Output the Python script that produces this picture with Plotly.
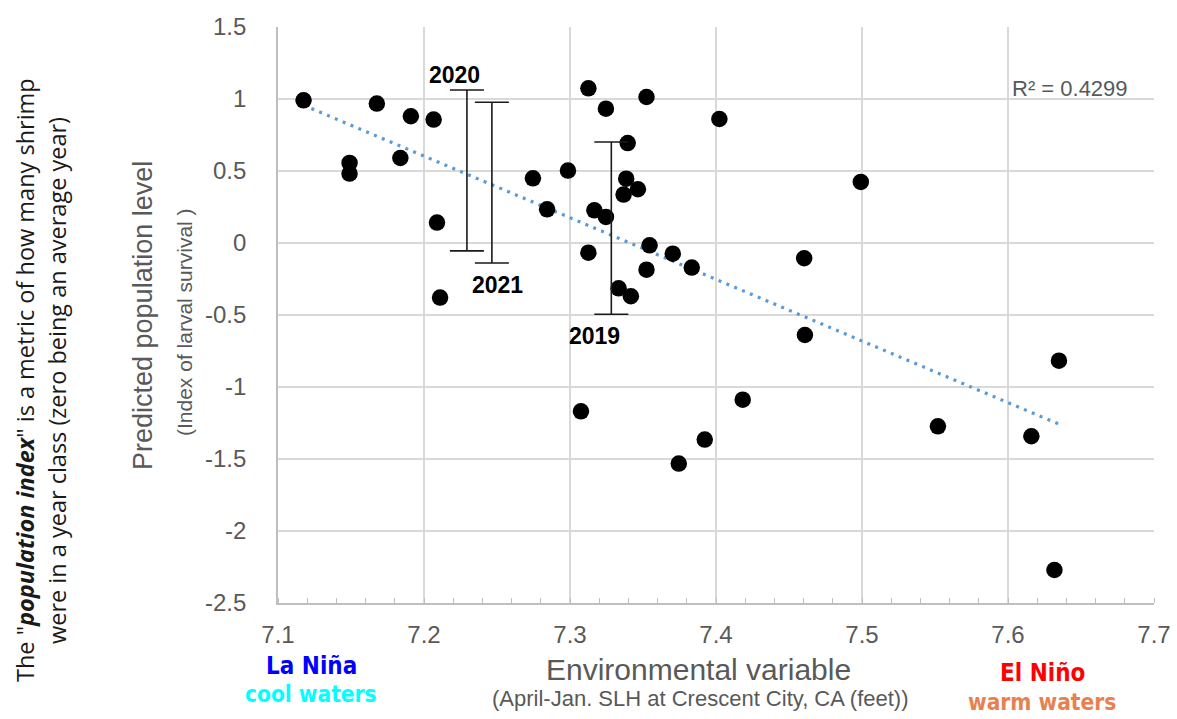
import numpy as np
import plotly.graph_objects as go

# Sea-level height (April-Jan.) and population index per year class
slh_ft = [7.1175, 7.1677, 7.191, 7.2066, 7.149, 7.149, 7.1838, 7.2089, 7.211,
          7.3126, 7.3246, 7.3524, 7.4023, 7.3395, 7.2986, 7.2746, 7.3385, 7.3465,
          7.3367, 7.2843, 7.3167, 7.3246, 7.3545, 7.3704, 7.3834, 7.3126, 7.3524,
          7.3333, 7.3417, 7.3075, 7.3923, 7.3745, 7.4992, 7.4604, 7.4609, 7.4183,
          7.6349, 7.552, 7.616, 7.6318]
pop_index = [0.991, 0.968, 0.88, 0.857, 0.556, 0.482, 0.590, 0.142, -0.379,
             1.074, 0.933, 1.014, 0.861, 0.694, 0.503, 0.449, 0.447, 0.373,
             0.336, 0.234, 0.227, 0.181, -0.016, -0.074, -0.171, -0.067, -0.185,
             -0.315, -0.370, -1.169, -1.365, -1.532, 0.424, -0.106, -0.639, -1.088,
             -0.817, -1.273, -1.342, -2.271]

# Predicted ranges for recent years
pred_years = ["2020", "2021", "2019"]
pred_x = [7.2294, 7.2465, 7.3283]
pred_low = [-0.055, -0.139, -0.495]
pred_high = [1.063, 0.977, 0.701]
label_x = [7.2206, 7.2502, 7.3170]
label_y = [1.165, -0.294, -0.648]

# Axis ticks
y_ticks = [-2.5, -2.0, -1.5, -1.0, -0.5, 0.0, 0.5, 1.0, 1.5]
y_ticktext = ["-2.5", "-2", "-1.5", "-1", "-0.5", "0", "0.5", "1", "1.5"]
x_ticks = [7.1, 7.2, 7.3, 7.4, 7.5, 7.6, 7.7]
x_ticktext = ["7.1", "7.2", "7.3", "7.4", "7.5", "7.6", "7.7"]

r2_text = "R² = 0.4299"

GRID = "#D9D9D9"
TXT = "#595959"

# plot-area geometry in pixels
L, R, T, B = 278, 1154, 27, 603

x = np.array(slh_ft)
y = np.array(pop_index)
slope, intercept = np.polyfit(x, y, 1)
fit_x = np.array([x.min(), x.max()])
fit_y = slope * fit_x + intercept

fig = go.Figure()

fig.add_trace(go.Scatter(
    x=fit_x, y=fit_y, mode="lines",
    line=dict(color="#5B9BD5", width=3.2, dash="3px,5.5px"),
    hoverinfo="skip", showlegend=False))

fig.add_trace(go.Scatter(
    x=slh_ft, y=pop_index, mode="markers",
    marker=dict(color="black", size=16.5, line=dict(width=0)),
    showlegend=False))

center = [(lo + hi) / 2 for lo, hi in zip(pred_low, pred_high)]
half = [(hi - lo) / 2 for lo, hi in zip(pred_low, pred_high)]
fig.add_trace(go.Scatter(
    x=pred_x, y=center, mode="markers",
    marker=dict(size=0.1, color="rgba(0,0,0,0)"),
    error_y=dict(type="data", array=half, symmetric=True,
                 color="#1a1a1a", thickness=1.6, width=17),
    hoverinfo="skip", showlegend=False))

for yr, lx, ly in zip(pred_years, label_x, label_y):
    fig.add_annotation(x=lx, y=ly, text=f"<b>{yr}</b>", showarrow=False,
                       font=dict(family="Liberation Sans", size=23, color="black"))


def note(px, py, text, size, color, family="Liberation Sans", angle=0):
    fig.add_annotation(xref="paper", yref="paper",
                       x=(px - L) / (R - L), y=(B - py) / (B - T),
                       text=text, showarrow=False, textangle=angle,
                       xanchor="center", yanchor="middle",
                       font=dict(family=family, size=size, color=color))


note(1070, 88, r2_text, 22, TXT)

fig.update_xaxes(
    range=[7.1, 7.7], tickvals=x_ticks, ticktext=x_ticktext,
    ticklabeloverflow="allow", automargin=False,
    showgrid=True, gridcolor=GRID, gridwidth=1.6,
    showline=True, linecolor="#BFBFBF", linewidth=1.6,
    ticks="", tickfont=dict(family="Liberation Sans", size=24, color=TXT),
    minor=dict(ticks="inside", dtick=0.02, ticklen=5, tickcolor="#BFBFBF",
               tickwidth=1.2, showgrid=False),
    zeroline=False, ticklabelstandoff=9)
fig.update_yaxes(
    range=[-2.5, 1.5], tickvals=y_ticks, ticktext=y_ticktext,
    automargin=False,
    showgrid=True, gridcolor=GRID, gridwidth=1.6,
    showline=True, linecolor="#BFBFBF", linewidth=1.6,
    ticks="", tickfont=dict(family="Liberation Sans", size=24, color=TXT),
    zeroline=False, ticklabelstandoff=25)

# Axis titles
note(143, 316, "Predicted population level", 27, TXT, angle=-90)
note(184, 322, "(Index of larval survival )", 21, TXT, angle=-90)
note(698, 669, "Environmental variable", 30, TXT)
note(700, 698, "(April-Jan. SLH at Crescent City, CA (feet))", 22, TXT)

# Side explanation
note(25, 380, "The \"<b><i>population index</i></b>\" is a metric of how many shrimp",
     23.5, "#1a1a1a", family="Open Sans", angle=-90)
note(57, 380, "were in a year class (zero being an average year)",
     23.5, "#1a1a1a", family="Open Sans", angle=-90)

# ENSO labels
cond = "Liberation Sans Narrow, DejaVu Sans Condensed, sans-serif"
note(311, 666, "<b>La Niña</b>", 24, "#0000FF", family=cond)
note(311, 694, "<b>cool waters</b>", 22.5, "#00FFFF", family=cond)
note(1042, 673, "<b>El Niño</b>", 24, "#FF0000", family=cond)
note(1042, 702, "<b>warm waters</b>", 22.5, "#E8804F", family=cond)

fig.update_layout(
    width=1177, height=719,
    margin=dict(l=L, r=1177 - R, t=T, b=719 - B),
    plot_bgcolor="white", paper_bgcolor="white",
    showlegend=False)

fig.write_html("out.html")
